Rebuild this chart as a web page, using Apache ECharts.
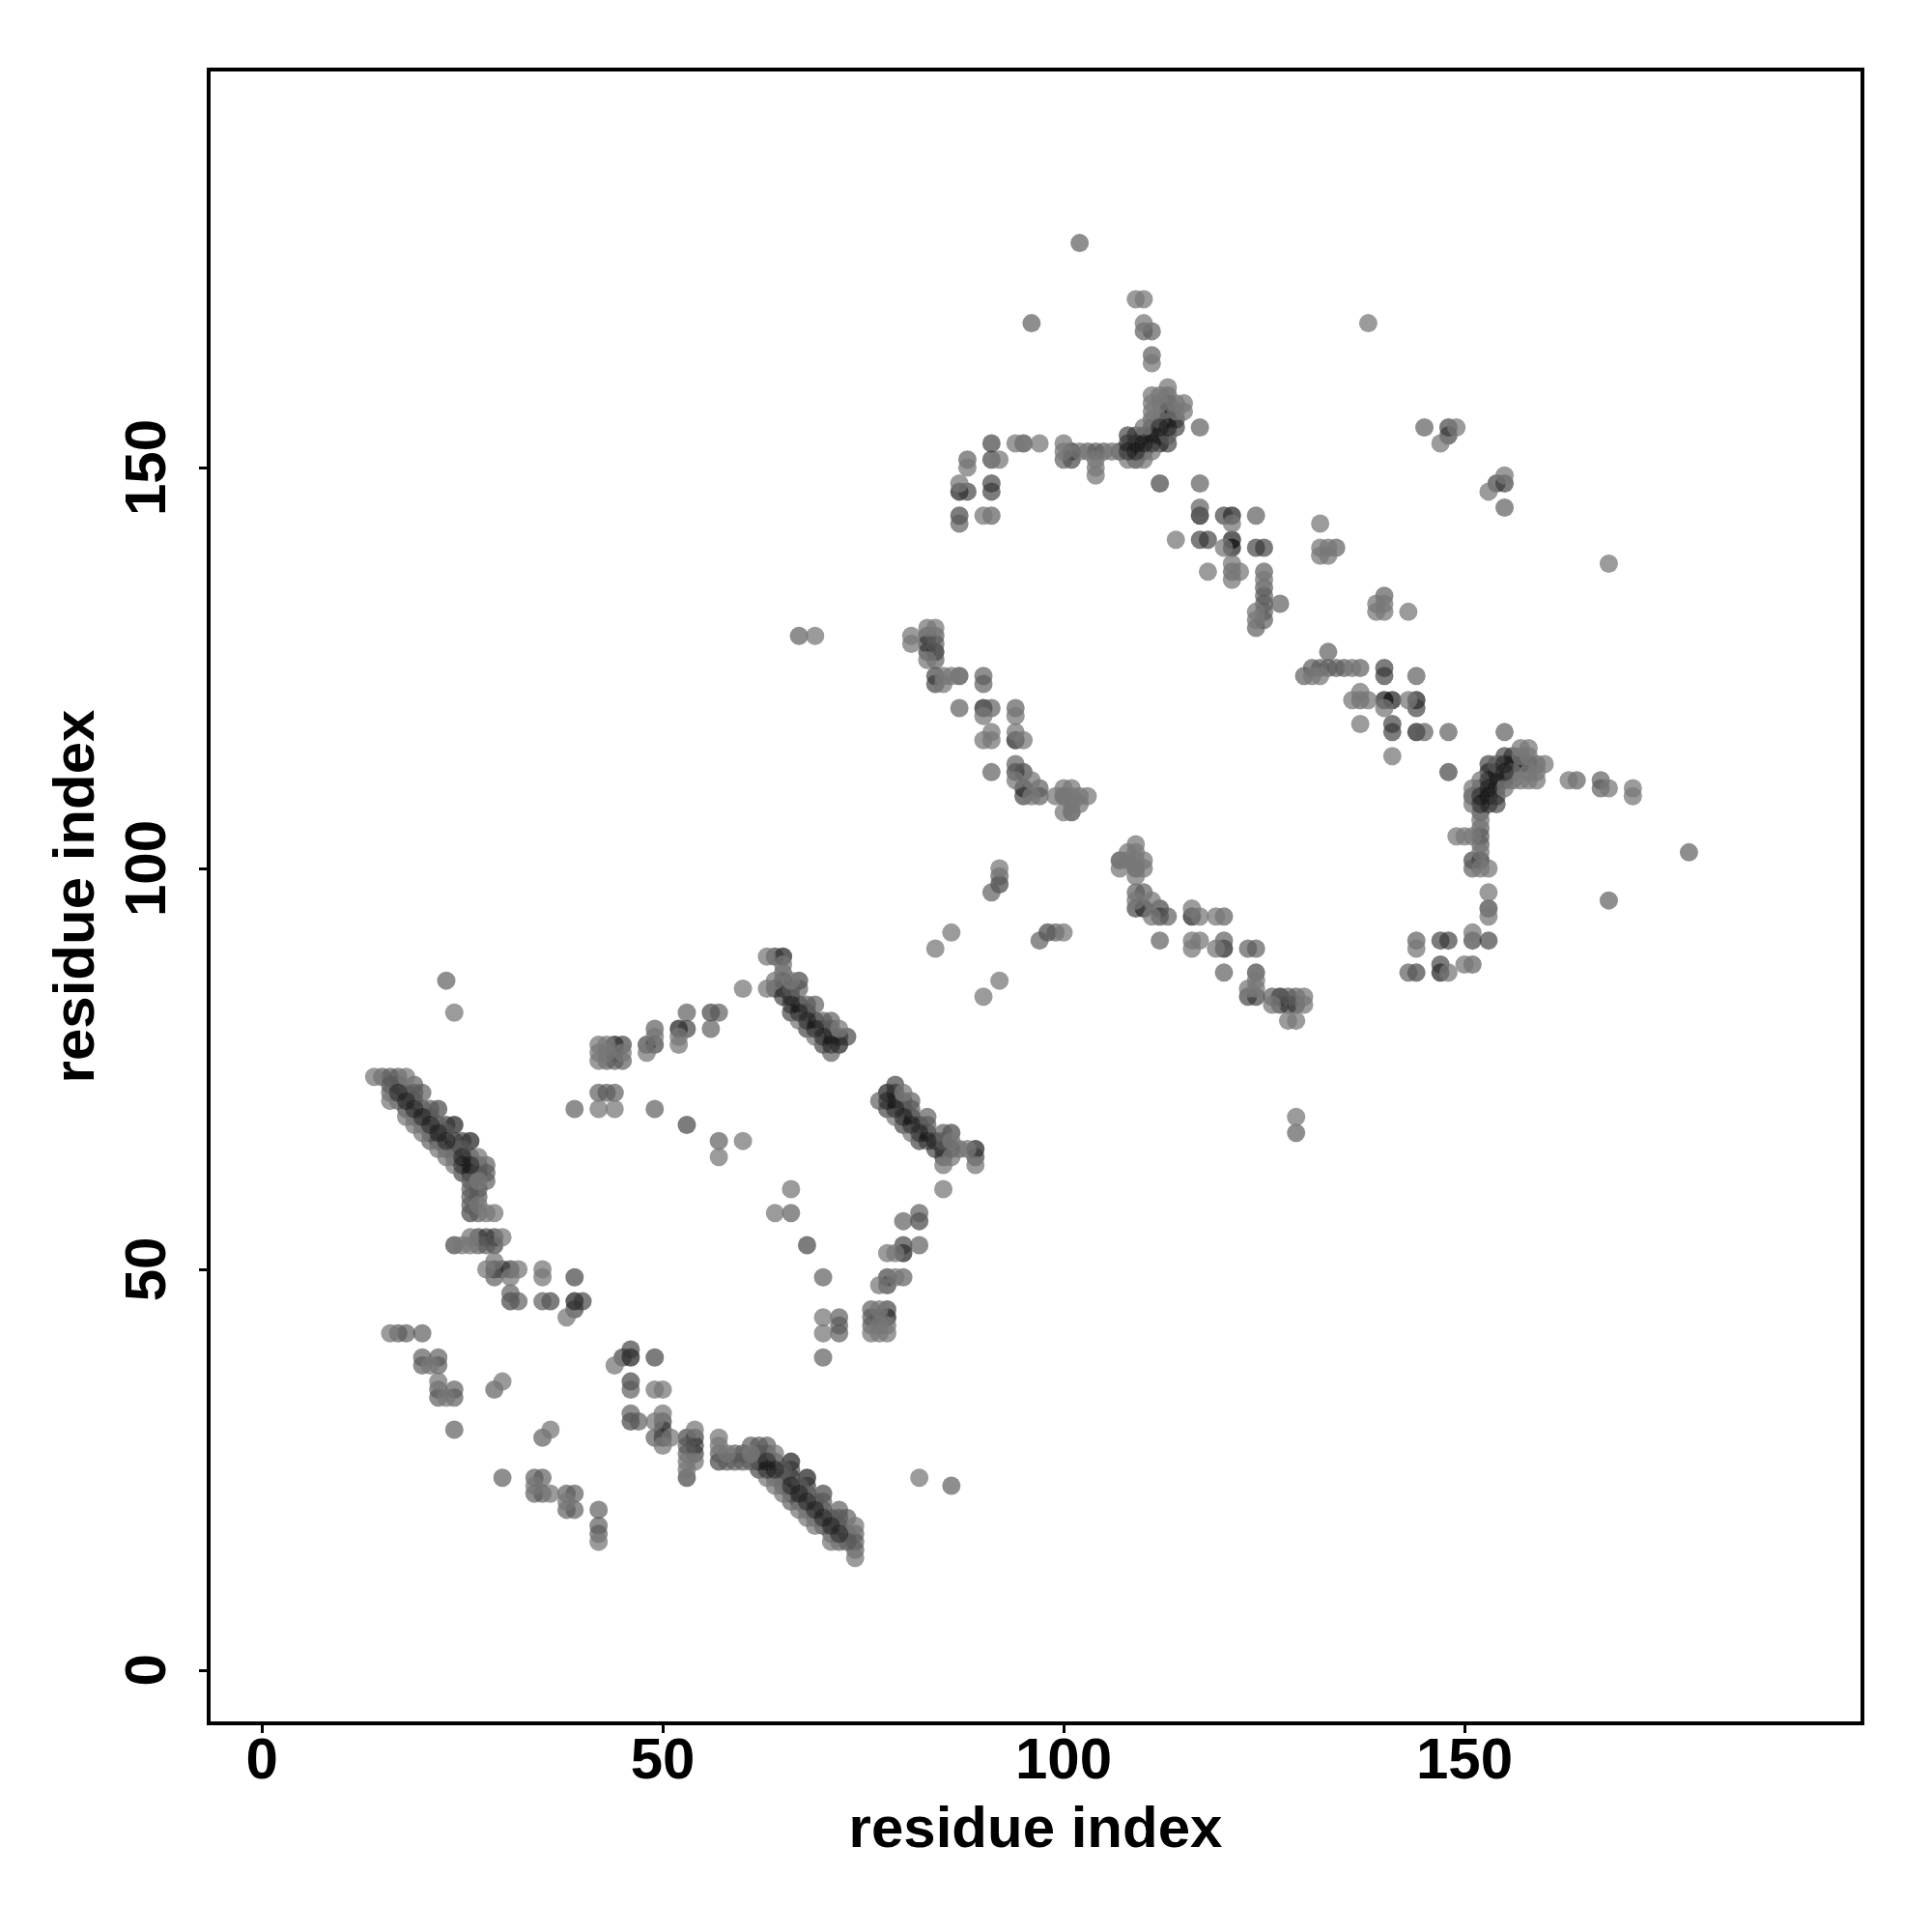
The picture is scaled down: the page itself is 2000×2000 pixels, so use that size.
<!DOCTYPE html>
<html><head><meta charset="utf-8">
<script src="https://cdn.jsdelivr.net/npm/echarts@6/dist/echarts.min.js"></script>
<style>html,body{margin:0;padding:0;background:#fff}#c{width:2000px;height:2000px}</style>
</head><body><div id="c"></div>
<script>
const tickValues = [0, 50, 100, 150];
const axisTitle = "residue index";
// Contacts as residue pairs [i, j], i < j; the map is symmetric. Grouped by shade.
const contactsCore = [
[17,72],[18,71],[19,70],[20,69],[21,68],[22,67],[23,66],[25,64],[26,63],[25,63],
[66,83],[67,82],[68,81],[69,80],[70,79],[71,78],[108,152],[109,152],[110,153],[111,153],[112,155],[113,155]];
const contactsBlack = [
[24,68],[26,66],[29,50],[39,46],[44,78],[52,80],[65,89],[72,78],[84,127],[87,147],[90,120],[94,116],[95,110],[117,144],
[121,144],[121,141],[121,140],[101,152],[112,153],
[113,156],[113,157]];
const contactsDark = [
[22,70],[23,68],[25,66],[18,70],[21,67],[22,66],[23,65],[24,66],[26,64],[26,62],[25,62],
[26,57],[27,54],[28,54],[29,54],[29,53],[24,53],[30,50],[31,50],[31,46],[39,45],[40,46],[36,46],[39,49],
[45,78],[48,78],[49,78],[53,80],[53,68],[56,82],[64,85],[65,85],[65,86],[67,86],[64,89],[65,84],[66,82],[68,80],
[70,78],[73,79],[66,84],[67,83],[68,82],[69,81],[70,80],[71,79],[72,79],[83,127],[83,128],[83,129],[84,123],[84,124],
[87,124],[94,112],[95,112],[95,109],[92,98],[100,109],[101,107],[88,147],[91,153],[91,151],[91,148],[91,147],
[87,144],[95,153],[120,144],[112,148],[117,141],[118,141],[124,140],[125,140],[101,151],[107,152],[108,154],[108,153],
[109,154],[109,153],[109,151],[110,154],[110,152],[111,155],[111,154],[112,154],[113,158],[113,153],[114,156],[114,155],
[148,155],[148,154]];
const contactsMid = [
[15,74],[16,74],[17,74],[16,73],[17,73],[16,72],[17,71],[18,72],[19,73],[19,72],[20,72],[19,71],[20,70],[21,70],[21,69],
[22,68],[23,67],[25,65],[19,69],[20,68],[24,64],[24,65],[21,66],[26,61],[26,60],[26,59],[26,58],[27,63],[27,62],[27,60],
[27,59],[27,57],[28,63],[28,62],[28,61],[28,53],[27,53],[29,49],[31,47],[32,46],[35,46],[17,42],[18,42],[20,42],[20,39],
[20,38],[22,39],[22,38],[22,35],[22,34],[24,35],[24,34],[24,30],[29,35],[23,86],[39,70],[42,72],[43,72],[44,72],[49,70],
[57,66],[43,76],[44,76],[45,76],[44,77],[49,80],[53,82],[56,80],[57,82],[65,87],[67,85],[69,83],[71,81],[66,85],[68,83],
[70,81],[71,80],[71,77],[67,129],[84,126],[84,128],[84,129],[87,120],[90,123],[90,124],[91,112],[91,120],[94,113],
[94,120],[97,109],[97,110],[91,97],[92,99],[88,151],[91,144],[87,143],[100,151],[103,152],[104,152],[105,152],[111,156],
[113,159],[113,154],[110,167],[111,167],[111,164],[102,178],[117,155],[117,148],[117,145],[121,137],[124,144],[125,137],
[125,135],[125,134],[125,133],[125,132],[125,131],[124,130],[127,133],[134,140],[145,155],[96,168]];
const contactsLight = [
[14,74],[18,74],[16,71],[18,69],[19,68],[20,67],[22,65],[23,64],[24,63],[27,64],[27,61],[27,58],[28,57],[29,57],[30,54],
[26,54],[26,53],[25,53],[29,51],[28,50],[32,50],[31,49],[35,50],[35,49],[38,44],[16,42],[21,38],[22,36],[23,34],[30,36],
[24,82],[42,70],[44,70],[42,76],[42,77],[42,78],[43,77],[43,78],[45,77],[48,77],[49,79],[52,78],[52,79],[57,64],[60,66],
[60,85],[63,85],[63,89],[64,86],[65,88],[66,86],[67,81],[69,79],[72,80],[81,128],[81,129],[83,126],[83,130],[84,130],
[85,123],[85,124],[86,124],[69,129],[84,90],[86,92],[90,116],[90,119],[91,116],[91,117],[94,111],[94,117],[94,119],
[95,116],[96,109],[96,111],[99,109],[100,107],[100,110],[101,108],[101,109],[101,110],[102,108],[102,109],[103,109],
[92,100],[87,148],[88,150],[92,151],[90,144],[94,153],[97,153],[100,153],[100,152],[102,152],[106,152],[104,151],
[104,150],[104,149],[108,151],[110,155],[110,151],[111,152],[112,156],[113,160],[114,158],[114,157],[115,158],[115,157],
[111,159],[111,158],[111,157],[112,159],[112,158],[109,171],[110,171],[110,168],[111,163],[121,143],[114,141],[120,140],
[118,137],[121,138],[121,136],[122,137],[125,136],[124,132],[124,131],[132,143],[132,140],[132,139],[133,140],[133,139],
[138,168],[149,155],[147,153]];

// drawn in this order; the core dots go last so their overlaps turn black
const groups = [
  [contactsBlack, "rgba(0,0,0,0.78)"],
  [contactsDark,  "rgba(50,50,50,0.80)"],
  [contactsMid,   "rgba(90,90,90,0.85)"],
  [contactsLight, "rgba(120,120,120,0.92)"],
  [contactsCore,  "rgba(0,0,0,0.45)"]
];
const font = "Liberation Sans";
const axisCommon = {
  min: -6.64, max: 199.64, type: "value", name: axisTitle, nameLocation: "middle",
  nameTextStyle: {fontFamily: font, fontWeight: "bold", fontSize: 60, color: "#000"},
  axisLine: {show: false, onZero: false},
  axisTick: {show: true, length: 10, lineStyle: {color: "#000", width: 3}, customValues: tickValues},
  axisLabel: {fontFamily: font, fontWeight: "bold", fontSize: 60, color: "#000", customValues: tickValues, showMinLabel: true, showMaxLabel: true},
  splitLine: {show: false}
};
const seen = new Set();
const series = groups.map(([pairs, color]) => {
  const data = [];
  pairs.forEach(([i, j]) => {
    const k = i + "," + j;
    if (seen.has(k)) return;
    seen.add(k);
    data.push([i, j], [j, i]);
  });
  return {type: "scatter", data, symbol: "circle", symbolSize: 19, silent: true, clip: false,
          itemStyle: {color}, animation: false};
});
const chart = echarts.init(document.getElementById("c"), null, {width: 2000, height: 2000, renderer: "canvas"});
chart.setOption({
  backgroundColor: "#fff",
  animation: false,
  grid: {left: 216, right: 72, top: 72, bottom: 216, show: true, borderColor: "#000", borderWidth: 4, containLabel: false},
  xAxis: Object.assign({}, axisCommon, {nameGap: 81,
    axisLabel: Object.assign({}, axisCommon.axisLabel, {margin: 10})}),
  yAxis: Object.assign({}, axisCommon, {nameGap: 106, nameRotate: 90,
    axisLabel: Object.assign({}, axisCommon.axisLabel, {rotate: 90, margin: 62, verticalAlign: "middle", align: "center"})}),
  series
});
</script></body></html>
